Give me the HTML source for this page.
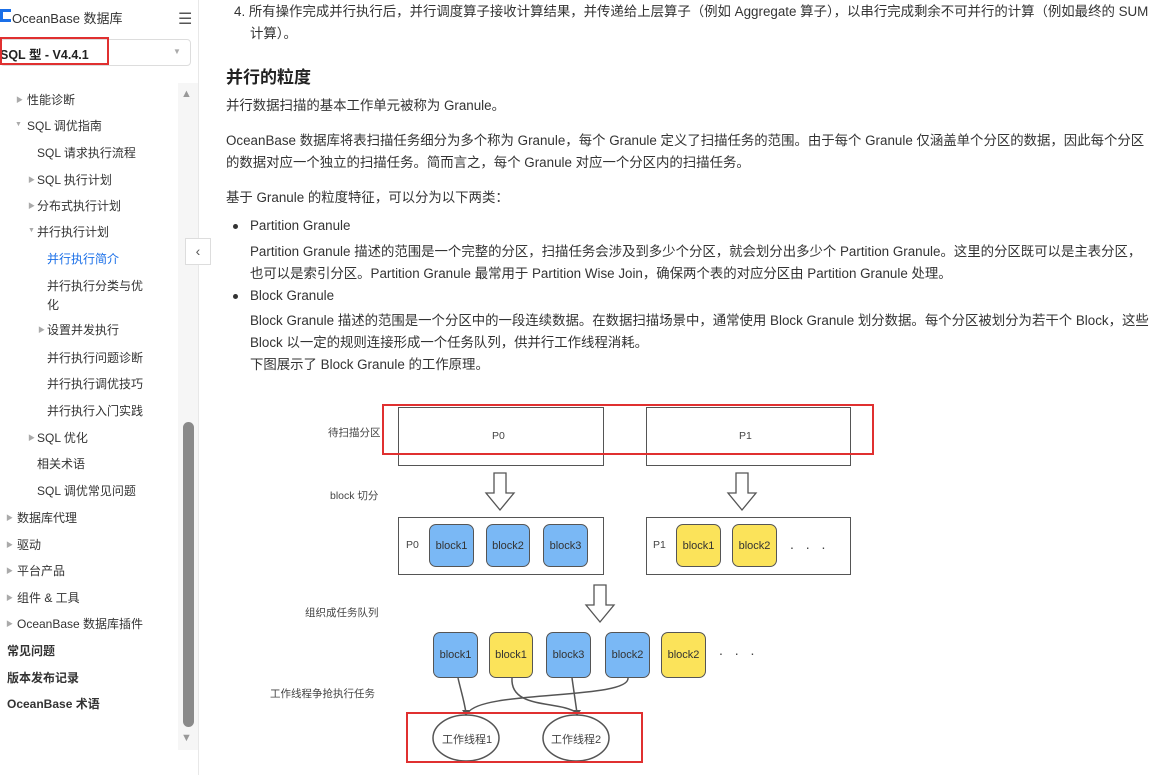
<!DOCTYPE html>
<html><head><meta charset="utf-8"><style>
body{margin:0;width:1166px;height:775px;overflow:hidden;background:#fff;font-family:"Liberation Sans","Noto Sans CJK SC",sans-serif;color:#333;position:relative}
.a{position:absolute;white-space:nowrap}
.s{font-size:12px;color:#333}
.m{font-size:13.4px;color:#333}
.tri{font-size:7px;color:#aaa}
.blk{position:absolute;border:1.5px solid #555;border-radius:7px;font-size:11px;color:#333;display:flex;align-items:center;justify-content:center;box-sizing:border-box}
.b{background:#7ab8f5}.y{background:#fbe35a}
.lbl{position:absolute;font-size:10.5px;color:#444;white-space:nowrap}
</style></head><body>
<!-- sidebar -->
<div class="a" style="left:0;top:9px;width:11px;height:13px;background:#1a6fe8"></div>
<div class="a" style="left:3px;top:12px;width:8px;height:7px;background:#fff"></div>
<div class="a s" style="left:12px;top:8px;font-size:13px">OceanBase 数据库</div>
<div class="a" style="left:178px;top:9px;font-size:16px;color:#555">☰</div>
<div class="a" style="left:0;top:39px;width:191px;height:27px;border:1px solid #ddd;border-radius:4px;box-sizing:border-box"></div>
<div class="a" style="left:0;top:44px;font-size:12.5px;font-weight:bold;color:#222">SQL 型 - V4.4.1</div>
<div class="a" style="left:173px;top:47px;font-size:8px;color:#aaa">▼</div>
<div class="a" style="left:0;top:37px;width:109px;height:28px;border:2px solid #e03030;box-sizing:border-box"></div>
<div class="a" style="left:178px;top:83px;width:20px;height:667px;background:#f6f6f6"></div>
<div class="a" style="left:183px;top:422px;width:11px;height:305px;background:#8a8a8a;border-radius:6px"></div>
<div class="a" style="left:181px;top:88px;font-size:11px;color:#999">▲</div>
<div class="a" style="left:181px;top:732px;font-size:11px;color:#999">▼</div>
<div class="a" style="left:198px;top:0;width:1px;height:775px;background:#e8e8e8"></div>
<div class="a" style="left:185px;top:238px;width:26px;height:27px;border:1px solid #ddd;background:#fff;box-sizing:border-box;font-size:14px;color:#555;text-align:center;line-height:25px">‹</div>

<div class="a tri" style="left:16px;top:95px">▶</div><div class="a s" style="left:27px;top:91px">性能诊断</div>
<div class="a tri" style="left:15px;top:121px">▼</div><div class="a s" style="left:27px;top:117px">SQL 调优指南</div>
<div class="a s" style="left:37px;top:144px">SQL 请求执行流程</div>
<div class="a tri" style="left:28px;top:175px">▶</div><div class="a s" style="left:37px;top:171px">SQL 执行计划</div>
<div class="a tri" style="left:28px;top:201px">▶</div><div class="a s" style="left:37px;top:197px">分布式执行计划</div>
<div class="a tri" style="left:28px;top:227px">▼</div><div class="a s" style="left:37px;top:223px">并行执行计划</div>
<div class="a s" style="left:47px;top:250px;color:#1a6fe8">并行执行简介</div>
<div class="a s" style="left:47px;top:277px">并行执行分类与优</div>
<div class="a s" style="left:47px;top:296px">化</div>
<div class="a tri" style="left:38px;top:325px">▶</div><div class="a s" style="left:47px;top:321px">设置并发执行</div>
<div class="a s" style="left:47px;top:349px">并行执行问题诊断</div>
<div class="a s" style="left:47px;top:375px">并行执行调优技巧</div>
<div class="a s" style="left:47px;top:402px">并行执行入门实践</div>
<div class="a tri" style="left:28px;top:433px">▶</div><div class="a s" style="left:37px;top:429px">SQL 优化</div>
<div class="a s" style="left:37px;top:455px">相关术语</div>
<div class="a s" style="left:37px;top:482px">SQL 调优常见问题</div>
<div class="a tri" style="left:6px;top:513px">▶</div><div class="a s" style="left:17px;top:509px">数据库代理</div>
<div class="a tri" style="left:6px;top:540px">▶</div><div class="a s" style="left:17px;top:536px">驱动</div>
<div class="a tri" style="left:6px;top:566px">▶</div><div class="a s" style="left:17px;top:562px">平台产品</div>
<div class="a tri" style="left:6px;top:593px">▶</div><div class="a s" style="left:17px;top:589px">组件 &amp; 工具</div>
<div class="a tri" style="left:6px;top:619px">▶</div><div class="a s" style="left:17px;top:615px">OceanBase 数据库插件</div>
<div class="a s" style="left:7px;top:642px;font-weight:bold">常见问题</div>
<div class="a s" style="left:7px;top:669px;font-weight:bold">版本发布记录</div>
<div class="a s" style="left:7px;top:695px;font-weight:bold">OceanBase 术语</div>

<!-- main -->
<div class="a m" style="left:234px;top:0px">4. 所有操作完成并行执行后，并行调度算子接收计算结果，并传递给上层算子（例如 Aggregate 算子），以串行完成剩余不可并行的计算（例如最终的 SUM</div>
<div class="a m" style="left:250px;top:22px">计算）。</div>
<div class="a" style="left:226px;top:63px;font-size:17px;font-weight:bold;color:#222">并行的粒度</div>
<div class="a m" style="left:226px;top:94px">并行数据扫描的基本工作单元被称为 Granule。</div>
<div class="a m" style="left:226px;top:129px">OceanBase 数据库将表扫描任务细分为多个称为 Granule，每个 Granule 定义了扫描任务的范围。由于每个 Granule 仅涵盖单个分区的数据，因此每个分区</div>
<div class="a m" style="left:226px;top:151px">的数据对应一个独立的扫描任务。简而言之，每个 Granule 对应一个分区内的扫描任务。</div>
<div class="a m" style="left:226px;top:186px">基于 Granule 的粒度特征，可以分为以下两类：</div>
<div class="a" style="left:233px;top:224px;width:5px;height:5px;border-radius:50%;background:#333"></div>
<div class="a m" style="left:250px;top:218px">Partition Granule</div>
<div class="a m" style="left:250px;top:240px">Partition Granule 描述的范围是一个完整的分区，扫描任务会涉及到多少个分区，就会划分出多少个 Partition Granule。这里的分区既可以是主表分区，</div>
<div class="a m" style="left:250px;top:262px">也可以是索引分区。Partition Granule 最常用于 Partition Wise Join，确保两个表的对应分区由 Partition Granule 处理。</div>
<div class="a" style="left:233px;top:294px;width:5px;height:5px;border-radius:50%;background:#333"></div>
<div class="a m" style="left:250px;top:288px">Block Granule</div>
<div class="a m" style="left:250px;top:309px">Block Granule 描述的范围是一个分区中的一段连续数据。在数据扫描场景中，通常使用 Block Granule 划分数据。每个分区被划分为若干个 Block，这些</div>
<div class="a m" style="left:250px;top:331px">Block 以一定的规则连接形成一个任务队列，供并行工作线程消耗。</div>
<div class="a m" style="left:250px;top:353px">下图展示了 Block Granule 的工作原理。</div>

<!-- diagram -->
<div class="lbl" style="left:328px;top:425px">待扫描分区</div>
<div class="lbl" style="left:330px;top:488px">block 切分</div>
<div class="lbl" style="left:305px;top:605px">组织成任务队列</div>
<div class="lbl" style="left:270px;top:686px">工作线程争抢执行任务</div>

<div class="a" style="left:398px;top:407px;width:206px;height:59px;border:1.5px solid #555;box-sizing:border-box"></div>
<div class="lbl" style="left:492px;top:430px">P0</div>
<div class="a" style="left:646px;top:407px;width:205px;height:59px;border:1.5px solid #555;box-sizing:border-box"></div>
<div class="lbl" style="left:739px;top:430px">P1</div>
<div class="a" style="left:382px;top:404px;width:492px;height:51px;border:2px solid #e03030;box-sizing:border-box"></div>

<svg class="a" style="left:0;top:0" width="1166" height="775">
<g fill="#fff" stroke="#555" stroke-width="1.3">
<path d="M494 473h12v20h8l-14 17l-14-17h8z"/>
<path d="M736 473h12v20h8l-14 17l-14-17h8z"/>
<path d="M594 585h12v20h8l-14 17l-14-17h8z"/>
</g>
<g fill="none" stroke="#555" stroke-width="1.5">
<path d="M458 678 C 462 695, 464 700, 466 713"/>
<path d="M512 678 C 510 710, 560 700, 577 713"/>
<path d="M572 678 L 577 713"/>
<path d="M628 678 C 630 700, 480 690, 468 713"/>
</g>
<ellipse cx="466" cy="738" rx="33" ry="23" fill="#fff" stroke="#555" stroke-width="1.5"/>
<ellipse cx="576" cy="738" rx="33" ry="23" fill="#fff" stroke="#555" stroke-width="1.5"/>
<g fill="#555"><path d="M462 710l4 6l4-6z"/><path d="M573 710l4 6l4-6z"/></g>
</svg>

<div class="a" style="left:398px;top:517px;width:206px;height:58px;border:1.5px solid #555;box-sizing:border-box"></div>
<div class="lbl" style="left:406px;top:539px">P0</div>
<div class="blk b" style="left:429px;top:524px;width:45px;height:43px">block1</div>
<div class="blk b" style="left:486px;top:524px;width:44px;height:43px">block2</div>
<div class="blk b" style="left:543px;top:524px;width:45px;height:43px">block3</div>
<div class="a" style="left:646px;top:517px;width:205px;height:58px;border:1.5px solid #555;box-sizing:border-box"></div>
<div class="lbl" style="left:653px;top:539px">P1</div>
<div class="blk y" style="left:676px;top:524px;width:45px;height:43px">block1</div>
<div class="blk y" style="left:732px;top:524px;width:45px;height:43px">block2</div>
<div class="lbl" style="left:790px;top:536px;font-size:14px;letter-spacing:4px">. . .</div>

<div class="blk b" style="left:433px;top:632px;width:45px;height:46px">block1</div>
<div class="blk y" style="left:489px;top:632px;width:44px;height:46px">block1</div>
<div class="blk b" style="left:546px;top:632px;width:45px;height:46px">block3</div>
<div class="blk b" style="left:605px;top:632px;width:45px;height:46px">block2</div>
<div class="blk y" style="left:661px;top:632px;width:45px;height:46px">block2</div>
<div class="lbl" style="left:719px;top:642px;font-size:14px;letter-spacing:4px">. . .</div>

<div class="lbl" style="left:442px;top:731px;font-size:11px">工作线程1</div>
<div class="lbl" style="left:551px;top:731px;font-size:11px">工作线程2</div>
<div class="a" style="left:406px;top:712px;width:237px;height:51px;border:2px solid #e03030;box-sizing:border-box"></div>
</body></html>
